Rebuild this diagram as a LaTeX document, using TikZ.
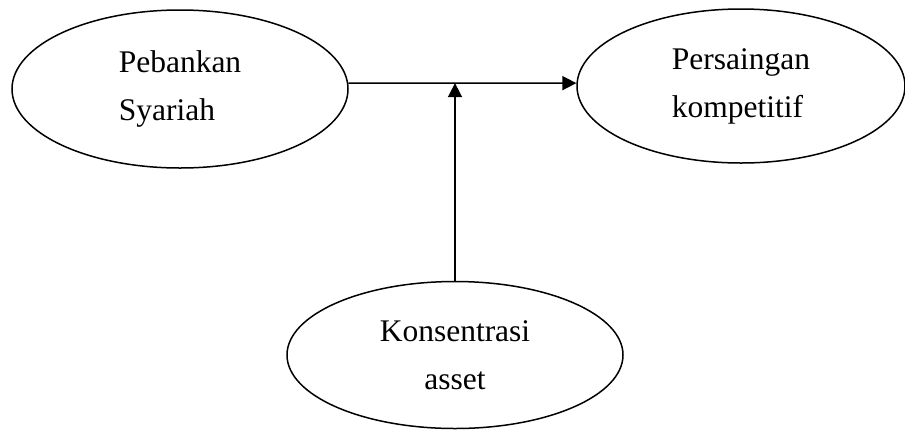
\documentclass[tikz,border=0pt]{standalone}
\usepackage{fontspec}
\setmainfont{Liberation Serif}
\usetikzlibrary{shapes.geometric,arrows.meta}
\begin{document}
\begin{tikzpicture}[x=1pt,y=-1pt,
  oval/.style={ellipse,draw,line width=1.5pt,inner sep=0pt,
    font=\fontsize{31.5}{48}\selectfont},
  conn/.style={line width=1.6pt,-{Triangle[length=14pt,width=14pt]}}]
\useasboundingbox (0,0) rectangle (905,432);
\node[oval,minimum width=336pt,minimum height=158pt,align=left] (L) at (180,89) {Pebankan\\Syariah};
\node[oval,minimum width=328pt,minimum height=154pt,align=left] (R) at (741,86) {Persaingan\\kompetitif};
\node[oval,minimum width=336pt,minimum height=147pt,align=center] (B) at (455,355) {Konsentrasi\\asset};
\draw[conn] (L.2) -- (R.179);
\draw[conn] (B.north) -- (B.north |- L.2);
\end{tikzpicture}
\end{document}
